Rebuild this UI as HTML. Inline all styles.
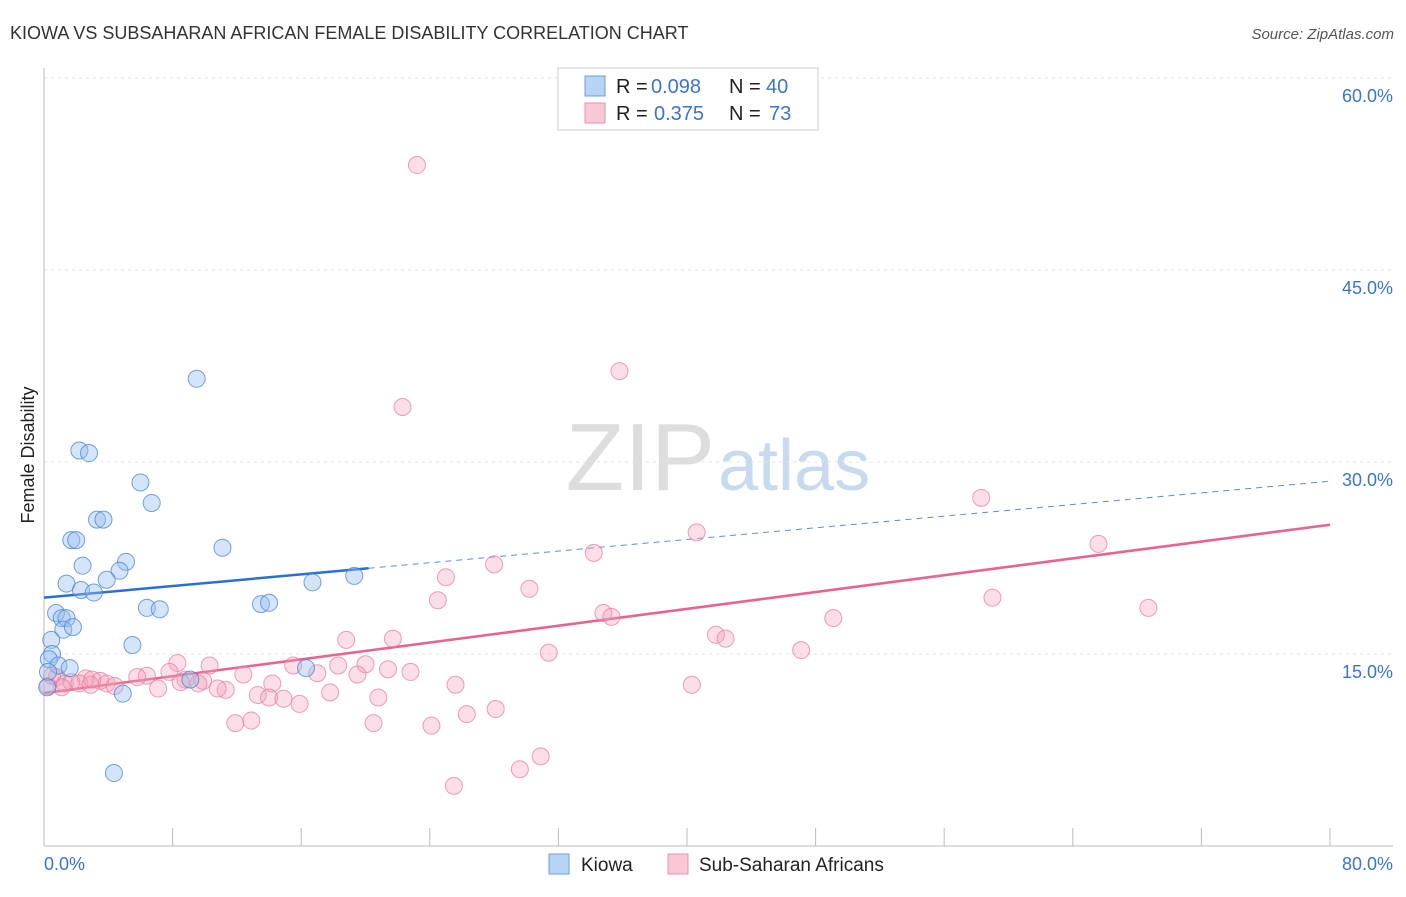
<!DOCTYPE html>
<html><head><meta charset="utf-8"><style>
body{margin:0;background:#fff;font-family:"Liberation Sans",sans-serif}
svg text{font-family:"Liberation Sans",sans-serif}
</style></head><body>
<svg id="chart" width="1406" height="892" xmlns="http://www.w3.org/2000/svg">
<text x="10" y="39" font-size="18" fill="#333">KIOWA VS SUBSAHARAN AFRICAN FEMALE DISABILITY CORRELATION CHART</text>
<text x="1394" y="39" font-size="15" fill="#555" font-style="italic" text-anchor="end">Source: ZipAtlas.com</text>
<text x="715" y="490" font-size="96" fill="#ddd" text-anchor="end" font-family="Liberation Serif">ZIP</text>
<text x="718" y="490" font-size="72" fill="#c8daf0">atlas</text>
<text x="34" y="455" font-size="18" fill="#222" text-anchor="middle" transform="rotate(-90 34 455)">Female Disability</text>
<g id="grid"></g><g id="axes"></g><g id="lines"></g><g id="pts"></g>
<g>
<rect x="558" y="68" width="260" height="62" fill="#fff" stroke="#ccc"/>
<rect x="585" y="76" width="20" height="20" fill="#b8d4f4" stroke="#6a9ee0"/>
<text x="616" y="93" font-size="20" fill="#222">R =</text>
<text x="651" y="93" font-size="20" fill="#3a74d0">0.098</text>
<text x="729" y="93" font-size="20" fill="#222">N =</text>
<text x="766" y="93" font-size="20" fill="#3a74d0">40</text>
<rect x="585" y="103" width="20" height="20" fill="#f8c8d6" stroke="#e890aa"/>
<text x="616" y="120" font-size="20" fill="#222">R =</text>
<text x="654" y="120" font-size="20" fill="#3a74d0">0.375</text>
<text x="729" y="120" font-size="20" fill="#222">N =</text>
<text x="769" y="120" font-size="20" fill="#3a74d0">73</text>
</g>
<g>
<rect x="549" y="854" width="20" height="20" fill="#b8d4f4" stroke="#6a9ee0"/>
<text x="581" y="871" font-size="19" fill="#222">Kiowa</text>
<rect x="668" y="854" width="20" height="20" fill="#f8c8d6" stroke="#e890aa"/>
<text x="699" y="871" font-size="19" fill="#222">Sub-Saharan Africans</text>
</g>
</svg>
<script>
const yTicks=[15,30,45,60];
const yTickLabels=["15.0%","30.0%","45.0%","60.0%"];
const xEndLabels=["0.0%","80.0%"];
const kiowaX=[9.5,2.2,2.8,6.0,6.7,3.3,3.7,1.7,2.0,11.1,5.1,2.4,4.7,3.9,1.4,2.3,3.1,6.4,7.2,13.5,14.0,16.7,19.3,0.75,1.1,1.4,1.2,1.8,0.45,5.5,0.5,0.3,0.9,1.6,0.25,0.2,4.9,9.1,16.3,4.35];
const kiowaY=[36.5,30.9,30.7,28.4,26.8,25.5,25.5,23.9,23.9,23.3,22.2,21.9,21.5,20.8,20.5,20.0,19.8,18.6,18.5,18.9,19.0,20.6,21.1,18.2,17.8,17.8,16.9,17.1,16.1,15.7,15.0,14.6,14.1,13.9,13.6,12.4,11.9,13.0,13.9,5.7];
const africanX=[23.2,35.8,22.3,58.3,40.6,65.6,34.2,28.0,25.0,30.2,59.0,24.5,68.7,34.8,35.3,49.1,41.8,42.4,18.8,21.7,31.4,47.1,8.3,10.3,15.5,18.3,20.0,7.8,12.4,19.5,21.4,22.8,6.4,5.8,2.6,3.5,0.8,1.3,1.7,2.2,2.9,3.9,4.4,8.8,9.9,9.6,11.3,10.8,14.2,17.0,17.8,7.1,1.1,25.6,40.3,13.3,14.0,14.9,15.9,20.8,26.3,28.1,11.9,12.9,20.5,24.1,30.9,29.6,25.5,0.25,8.5,3.0,0.5];
const africanY=[53.2,37.1,34.3,27.2,24.5,23.6,22.9,22.0,21.0,20.1,19.4,19.2,18.6,18.2,17.9,17.8,16.5,16.2,16.1,16.2,15.1,15.3,14.3,14.1,14.1,14.1,14.2,13.6,13.4,13.4,13.8,13.6,13.3,13.2,13.1,12.9,13.2,12.7,12.8,12.7,12.6,12.7,12.5,13.0,12.9,12.7,12.2,12.3,12.7,13.5,12.0,12.3,12.4,12.6,12.6,11.8,11.6,11.5,11.1,11.6,10.3,10.7,9.6,9.8,9.6,9.4,7.0,6.0,4.7,12.5,12.8,13.0,13.3];
const kiowaTrend=[19.4,28.5], kiowaSolidEnd=20.2;
const africanTrend=[11.95,25.1];
const NS="http://www.w3.org/2000/svg";
const xs=v=>44+v/80*1286, ys=v=>846-v/15*192;
function mk(tag,attrs,parent){const e=document.createElementNS(NS,tag);for(const k in attrs)e.setAttribute(k,attrs[k]);document.getElementById(parent).appendChild(e);return e;}
yTicks.forEach((t,i)=>{
 const g=mk('line',{x1:44,x2:1393,y1:ys(t),y2:ys(t),stroke:'#e4e4e4','stroke-dasharray':'3,4'},'grid');
 
 
 const l=mk('text',{x:1393,y:ys(t)+24,'font-size':18,fill:'#3a74d0','text-anchor':'end'},'grid');l.textContent=yTickLabels[i];
 
 
});
const ax=mk('line',{x1:44,x2:44,y1:68,y2:846,stroke:'#bbb'},'axes');


const bx=mk('line',{x1:44,x2:1393,y1:846,y2:846,stroke:'#bbb'},'axes');


for(let i=0;i<=10;i++){const t=mk('line',{x1:xs(i*8),x2:xs(i*8),y1:828,y2:846,stroke:'#bbb'},'axes');
 
 }
[[0,'start',44],[80,'end',1393]].forEach((d,i)=>{const t=mk('text',{x:d[2],y:870,'font-size':18,fill:'#3a74d0','text-anchor':d[1]},'axes');t.textContent=xEndLabels[i];
 
 });
const kt=v=>kiowaTrend[0]+(kiowaTrend[1]-kiowaTrend[0])*v/80;
const at=v=>africanTrend[0]+(africanTrend[1]-africanTrend[0])*v/80;
let l1=mk('line',{x1:xs(kiowaSolidEnd),y1:ys(kt(kiowaSolidEnd)),x2:xs(80),y2:ys(kt(80)),stroke:'#5a8ed8','stroke-width':1,'stroke-dasharray':'6,5'},'lines');


let l2=mk('line',{x1:xs(0),y1:ys(kt(0)),x2:xs(kiowaSolidEnd),y2:ys(kt(kiowaSolidEnd)),stroke:'#2a6fd4','stroke-width':2.5},'lines');


let l3=mk('line',{x1:xs(0),y1:ys(at(0)),x2:xs(80),y2:ys(at(80)),stroke:'#e8638e','stroke-width':2.5},'lines');


africanX.forEach((x,i)=>{const c=mk('circle',{cx:xs(x),cy:ys(africanY[i]),r:8.5,fill:'rgba(244,160,186,0.35)',stroke:'rgba(230,120,155,0.7)','stroke-width':1},'pts');
 
 });
kiowaX.forEach((x,i)=>{const c=mk('circle',{cx:xs(x),cy:ys(kiowaY[i]),r:8.5,fill:'rgba(150,190,240,0.4)',stroke:'rgba(70,130,210,0.75)','stroke-width':1},'pts');
 
 });
</script>
</body></html>
